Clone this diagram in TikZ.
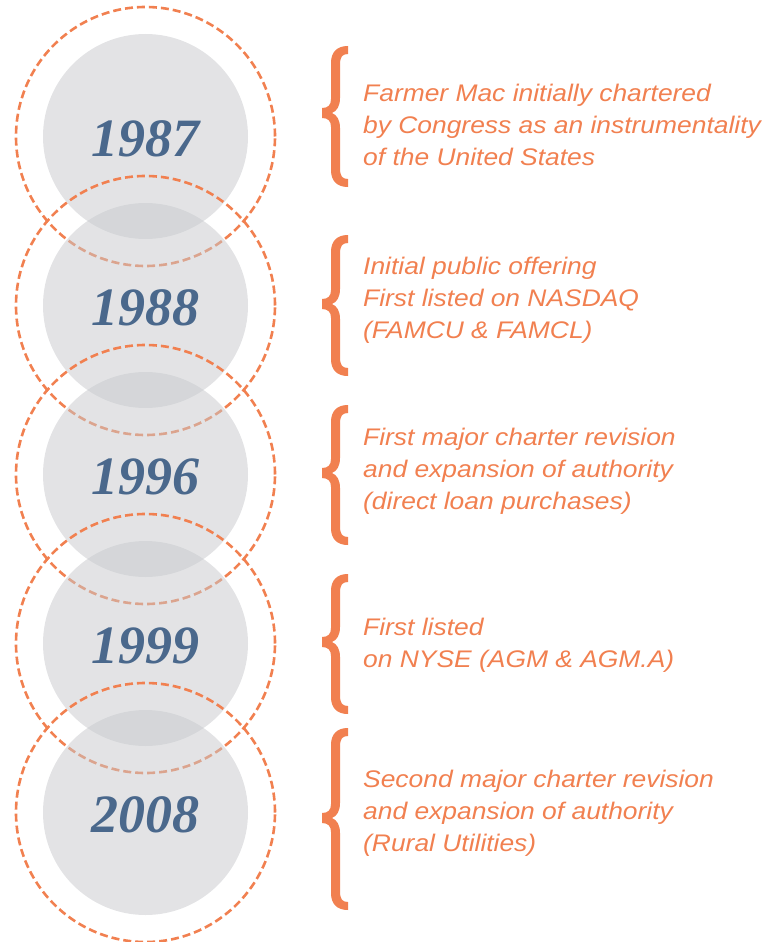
\documentclass[tikz,border=0pt]{standalone}
\usepackage{fontspec}
\newfontfamily\yrfont{Liberation Serif}
\newfontfamily\txfont{Liberation Sans}[FakeStretch=1.1]
\definecolor{discgrey}{RGB}{199,200,204}
\definecolor{ringorange}{RGB}{241,128,80}
\definecolor{yearblue}{RGB}{74,104,140}
\newcommand{\tlbrace}[3]{% top, tip, bottom
  \fill[ringorange] (348,#1) .. controls (337,#1) and (331,#1+6) .. (331,#1+17)
    -- (331,#2-14) .. controls (331,#2-8) and (328,#2-5) .. (322,#2-5)
    -- (322,#2+5) .. controls (328,#2+5) and (331,#2+8) .. (331,#2+14)
    -- (331,#3-17) .. controls (331,#3-6) and (337,#3) .. (348,#3)
    -- (348,#3-8) .. controls (342,#3-8) and (340,#3-11) .. (340,#3-19)
    -- (340,#2+15) .. controls (340,#2+7) and (337,#2+2) .. (332,#2)
    .. controls (337,#2-2) and (340,#2-7) .. (340,#2-15)
    -- (340,#1+19) .. controls (340,#1+11) and (342,#1+8) .. (348,#1+8) -- cycle;}
\begin{document}
\begin{tikzpicture}[x=1pt,y=-1pt,
  disc/.style={circle,minimum size=205pt,inner sep=0pt,fill=discgrey,fill opacity=0.5},
  ring/.style={circle,minimum size=259pt,inner sep=0pt,draw=ringorange,line width=2.6pt,dash pattern=on 8pt off 4pt},
  year/.style={font=\yrfont\bfseries\itshape\fontsize{54}{54}\selectfont,text=yearblue,inner sep=0pt},
  desc/.style={font=\txfont\itshape\fontsize{24}{32}\selectfont,text=ringorange,align=left,anchor=base west,inner sep=0pt}]
\useasboundingbox (0,0) rectangle (773,942);
% circles
\node[disc] (d1) at (145.5,136.5) {};
\node[ring] (r1) at (145.5,136.5) {};
\node[disc] (d2) at (145.5,305.5) {};
\node[ring] (r2) at (145.5,305.5) {};
\node[disc] (d3) at (145.5,474.5) {};
\node[ring] (r3) at (145.5,474.5) {};
\node[disc] (d4) at (145.5,643.5) {};
\node[ring] (r4) at (145.5,643.5) {};
\node[disc] (d5) at (145.5,812.5) {};
\node[ring] (r5) at (145.5,812.5) {};
% years
\node[year] (y1) at (145.5,138.5) {1987};
\node[year] (y2) at (145.5,307.5) {1988};
\node[year] (y3) at (145.5,476.5) {1996};
\node[year] (y4) at (145.5,645.5) {1999};
\node[year] (y5) at (145.5,814.5) {2008};
% braces
\tlbrace{46}{113}{187}
\tlbrace{235}{304}{376}
\tlbrace{405}{473}{545}
\tlbrace{574}{642}{714}
\tlbrace{728}{818}{910}
% descriptions (anchored at the last line's baseline)
\node[desc] (t1) at (363,165) {Farmer Mac initially chartered\\by Congress as an instrumentality\\of the United States};
\node[desc] (t2) at (363,338) {Initial public offering\\First listed on NASDAQ\\(FAMCU \& FAMCL)};
\node[desc] (t3) at (363,509) {First major charter revision\\and expansion of authority\\(direct loan purchases)};
\node[desc] (t4) at (363,667) {First listed\\on NYSE (AGM \& AGM.A)};
\node[desc] (t5) at (363,851) {Second major charter revision\\and expansion of authority\\(Rural Utilities)};
\end{tikzpicture}
\end{document}
